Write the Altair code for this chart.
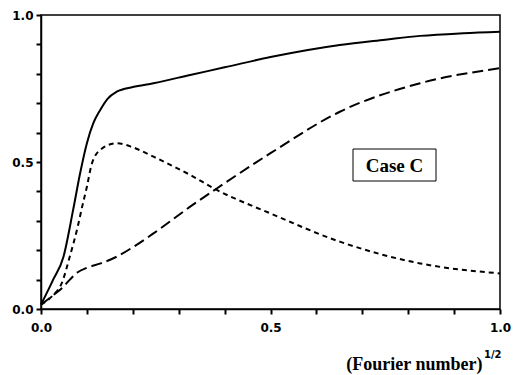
import altair as alt
import pandas as pd

# Solid curve
x_solid = [0.0, 0.025, 0.049, 0.070, 0.085, 0.100, 0.114, 0.129, 0.145, 0.165, 0.20, 0.245, 0.325, 0.40, 0.50, 0.651, 0.75, 0.826, 0.92, 1.0]
y_solid = [0.015, 0.095, 0.178, 0.337, 0.460, 0.564, 0.632, 0.677, 0.715, 0.739, 0.755, 0.768, 0.796, 0.822, 0.857, 0.898, 0.916, 0.929, 0.938, 0.943]

# Short-dashed curve
x_short = [0.0, 0.025, 0.045, 0.063, 0.080, 0.090, 0.100, 0.110, 0.129, 0.165, 0.20, 0.245, 0.325, 0.383, 0.50, 0.651, 0.826, 1.0]
y_short = [0.015, 0.045, 0.087, 0.180, 0.280, 0.350, 0.416, 0.490, 0.541, 0.564, 0.550, 0.518, 0.456, 0.405, 0.325, 0.229, 0.155, 0.121]

# Long-dashed curve
x_long = [0.0, 0.025, 0.049, 0.063, 0.080, 0.100, 0.130, 0.165, 0.20, 0.245, 0.325, 0.383, 0.50, 0.651, 0.826, 1.0]
y_long = [0.015, 0.045, 0.076, 0.100, 0.125, 0.140, 0.155, 0.178, 0.210, 0.257, 0.348, 0.410, 0.530, 0.671, 0.768, 0.819]

tick_values = [0.0, 0.1, 0.2, 0.3, 0.4, 0.5, 0.6, 0.7, 0.8, 0.9, 1.0]
x_title = "(Fourier number)"
superscript = "1/2"
box_label = "Case C"

rows = []
for name, xs, ys in [("solid", x_solid, y_solid), ("short", x_short, y_short), ("long", x_long, y_long)]:
    for a, b in zip(xs, ys):
        rows.append({"series": name, "x": a, "y": b})
df = pd.DataFrame(rows)

label_expr = "(datum.value == 0 || datum.value == 0.5 || datum.value == 1) ? format(datum.value, '.1f') : ''"

x_axis = alt.Axis(values=tick_values, labelExpr=label_expr, title=x_title,
                  grid=False, ticks=True, domainColor="black", domainWidth=1.5,
                  tickColor="#000000", tickSize=5, tickWidth=2, tickOpacity=1,
                  labelFont="DejaVu Sans", labelFontWeight="bold", labelFontSize=12,
                  labelColor="black", labelPadding=8, labelFlush=False, labelOverlap=False,
                  titleFont="Liberation Serif", titleFontWeight="bold", titleFontSize=18,
                  titleColor="black", titleAlign="right", titleBaseline="alphabetic",
                  titleAnchor="start", titleX=441, titleY=60)
y_axis = alt.Axis(values=tick_values, labelExpr=label_expr, title=None,
                  grid=False, ticks=True, domainColor="black", domainWidth=1.5,
                  tickColor="#000000", tickSize=5, tickWidth=2, tickOpacity=1,
                  labelFont="DejaVu Sans", labelFontWeight="bold", labelFontSize=12,
                  labelColor="black", labelPadding=3, labelFlush=False, labelOverlap=False)

x_enc = alt.X("x:Q", scale=alt.Scale(domain=[0, 1], nice=False, zero=False), axis=x_axis)
y_enc = alt.Y("y:Q", scale=alt.Scale(domain=[0, 1], nice=False, zero=False), axis=y_axis)

def curve(name, dash):
    kw = dict(color="black", strokeWidth=2, interpolate="monotone")
    if dash:
        kw["strokeDash"] = dash
    return alt.Chart(df).transform_filter(alt.datum.series == name).mark_line(**kw).encode(
        x=x_enc, y=y_enc, order="x:Q")

solid = curve("solid", None)
short = curve("short", [5, 4])
long_ = curve("long", [11, 5])

ann = pd.DataFrame({"sup": [superscript], "box": [box_label]})
sup = alt.Chart(ann).mark_text(font="DejaVu Sans", fontWeight="bold", fontSize=10,
                               align="left", baseline="alphabetic", color="black").encode(
    x=alt.value(443), y=alt.value(343), text="sup:N")
box = alt.Chart(ann).mark_rect(fill="white", stroke="black", strokeWidth=1).encode(
    x=alt.value(312), x2=alt.value(395), y=alt.value(134), y2=alt.value(166))
box_text = alt.Chart(ann).mark_text(font="Liberation Serif", fontWeight="bold", fontSize=19,
                                    align="center", baseline="middle", color="black").encode(
    x=alt.value(353.5), y=alt.value(151), text="box:N")

chart = alt.layer(long_, short, solid, box, box_text, sup).properties(
    width=459, height=294,
    autosize=alt.AutoSizeParams(type="none"),
    padding={"left": 41, "top": 15, "right": 13, "bottom": 66},
    background="white",
).configure_view(stroke="black", strokeWidth=1.5)

chart.save("out.html", embed_options={"renderer": "svg", "actions": False})
